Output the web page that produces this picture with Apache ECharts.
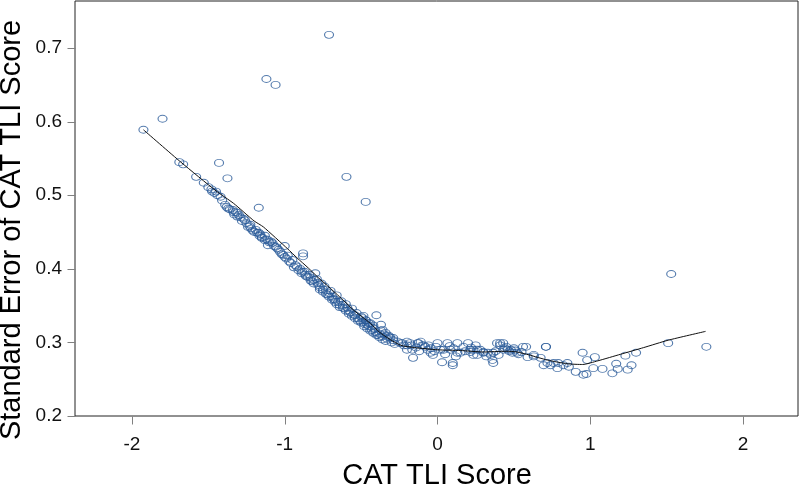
<!DOCTYPE html>
<html><head><meta charset="utf-8">
<script src="https://cdn.jsdelivr.net/npm/echarts@6/dist/echarts.min.js"></script>
<style>html,body{margin:0;padding:0;background:#fff}#c{width:800px;height:488px}</style>
</head><body><div id="c"></div>
<script>
const xTicks = [-2, -1, 0, 1, 2];
const yTicks = [0.2, 0.3, 0.4, 0.5, 0.6, 0.7];
const xTitle = 'CAT TLI Score';
const yTitle = 'Standard Error of CAT TLI Score';

const pointX = [
-0.71,-1.12,-1.06,-1.80,-1.925,-0.596,-0.47,-1.43,-1.375,-1.17,-1.69,-1.665,1.53,1.76,1.51,-1.00,-0.88,-0.88,-0.40,
-1.58,-1.53,-1.50,-1.475,-1.46,-1.44,-1.41,-1.34,-1.32,-1.30,-1.27,-1.25,-1.24,-1.18,-1.165,-1.15,-1.13,-1.11,
-1.335,-1.31,-1.29,-1.26,-1.225,-1.19,-1.17,-1.15,-1.11,-1.08,-1.05,-1.03,-1.00,-0.96,-0.94,-0.91,-0.885,-0.865,-0.83,-0.81,-0.80,-0.785,-0.77,-0.73,-0.71,-0.69,-0.67,-0.65,-0.62,-0.59,-0.57,-0.54,-0.52,-0.485,-0.46,-0.425,-0.405,-0.485,-0.39,
-0.98,-0.95,-0.93,-0.90,-0.87,-0.85,-0.84,-0.82,-0.79,-0.78,-0.76,-0.75,-0.74,-0.72,-0.70,-0.68,-0.66,-0.64,-0.63,-0.61,-0.60,-0.58,-0.56,-0.55,-0.53,-0.51,-0.50,-0.48,-0.47,-0.45,-0.44,-0.43,-0.42,-0.41,-0.38,-0.37,-0.36,-0.35,-0.33,-0.32,
-1.48,-1.45,-1.42,-1.38,-1.36,-1.28,-1.22,-1.20,-1.13,-1.09,-1.07,-1.04,-1.02,-0.99,-0.97,-0.92,
-0.49,-0.47,-0.45,-0.37,-0.36,-0.34,-0.32,-0.29,-0.26,-0.24,-0.22,-0.20,-0.18,-0.165,-0.16,-0.125,-0.10,-0.08,-0.045,-0.03,0.0,0.02,0.03,0.065,0.085,0.10,0.13,0.15,0.20,0.215,0.235,0.26,0.30,0.33,0.36,0.365,0.39,0.41,0.43,0.46,
-0.31,-0.29,-0.23,-0.20,-0.20,-0.13,-0.11,-0.09,-0.065,-0.045,-0.01,0.04,0.10,0.105,0.13,0.17,0.215,0.235,0.26,0.30,0.35,0.365,0.41,0.43,0.48,0.50,0.52,0.56,0.59,0.63,0.675,0.71,0.695,0.72,
0.45,0.58,0.63,0.71,0.74,0.76,0.785,0.79,0.825,0.85,0.86,0.905,0.95,0.955,0.975,0.98,1.02,1.03,1.08,1.145,1.17,1.18,1.23,1.245,1.27,1.30,
0.47,0.49,0.51,0.53,0.44,
-1.39,-1.37,-1.33,-1.31,-1.23,-1.21,-1.16,-1.12,-1.10,-1.06,-1.01,
-0.89,-0.86,-0.83,-0.81,-0.77,-0.75,-0.73,-0.71,-0.69,-0.67,-0.66,-0.64,-0.62,-0.60,-0.58,-0.56,-0.54,-0.52,-0.50,-0.48,-0.46,-0.44,-0.42,-0.40,-0.38,-0.36,-0.34,-0.30,-0.28,
-0.17,-0.14,-0.12,-0.06,-0.02,0.05,0.08,0.12,0.18,0.22,0.25,0.28,0.32,0.38,0.40,0.55
];
const pointY = [
0.718,0.658,0.650,0.604,0.589,0.525,0.491,0.544,0.523,0.483,0.545,0.542,0.393,0.294,0.299,0.431,0.421,0.417,0.337,
0.525,0.517,0.511,0.505,0.503,0.500,0.493,0.480,0.477,0.473,0.468,0.462,0.457,0.449,0.445,0.442,0.439,0.432,
0.477,0.476,0.470,0.466,0.460,0.453,0.449,0.443,0.439,0.435,0.428,0.423,0.416,0.408,0.402,0.398,0.396,0.392,0.388,0.385,0.394,0.381,0.375,0.371,0.367,0.362,0.358,0.355,0.351,0.347,0.341,0.337,0.333,0.328,0.324,0.320,0.314,0.336,0.310,
0.418,0.412,0.405,0.400,0.396,0.389,0.392,0.383,0.386,0.378,0.380,0.372,0.376,0.365,0.370,0.359,0.364,0.351,0.356,0.346,0.352,0.343,0.346,0.338,0.340,0.330,0.335,0.325,0.330,0.322,0.326,0.317,0.323,0.318,0.312,0.316,0.308,0.311,0.305,0.309,
0.508,0.505,0.498,0.484,0.481,0.465,0.455,0.450,0.445,0.437,0.431,0.426,0.420,0.414,0.410,0.403,
0.333,0.330,0.326,0.324,0.317,0.313,0.307,0.306,0.301,0.299,0.296,0.301,0.299,0.290,0.279,0.299,0.296,0.294,0.292,0.283,0.299,0.290,0.273,0.299,0.290,0.272,0.299,0.286,0.299,0.290,0.283,0.290,0.287,0.286,0.276,0.286,0.299,0.296,0.299,0.290,
0.307,0.303,0.299,0.296,0.290,0.299,0.301,0.296,0.290,0.286,0.294,0.290,0.269,0.292,0.286,0.294,0.287,0.290,0.283,0.286,0.283,0.272,0.299,0.290,0.290,0.292,0.286,0.294,0.280,0.283,0.279,0.294,0.269,0.272,
0.294,0.294,0.281,0.294,0.269,0.272,0.265,0.272,0.269,0.272,0.267,0.260,0.286,0.256,0.257,0.276,0.265,0.280,0.264,0.258,0.271,0.264,0.282,0.263,0.269,0.286,
0.288,0.286,0.289,0.284,0.292,
0.487,0.482,0.474,0.471,0.458,0.452,0.447,0.440,0.436,0.430,0.419,
0.394,0.390,0.384,0.380,0.372,0.369,0.366,0.362,0.358,0.355,0.352,0.348,0.347,0.343,0.339,0.336,0.333,0.329,0.327,0.322,0.319,0.316,0.313,0.310,0.307,0.304,0.302,0.300,0.298,
0.296,0.293,0.288,0.296,0.288,0.284,0.295,0.281,0.288,0.293,0.296,0.290,0.281,0.288,0.283,0.287
];
const fitX = [-1.925,-1.68,-1.45,-1.335,-1.20,-1.14,-0.98,-0.92,-0.845,-0.78,-0.72,-0.62,-0.55,-0.44,-0.38,-0.31,-0.24,-0.15,0.0,0.15,0.30,0.45,0.52,0.60,0.72,0.85,0.95,1.05,1.20,1.35,1.51,1.755];
const fitY = [0.589,0.545,0.506,0.489,0.465,0.457,0.427,0.415,0.401,0.388,0.377,0.358,0.344,0.326,0.314,0.304,0.296,0.293,0.290,0.289,0.287,0.288,0.287,0.283,0.276,0.271,0.270,0.275,0.284,0.293,0.303,0.315];

const X_MIN = -2.373, X_MAX = 2.36, Y_MIN = 0.2, Y_MAX = 0.764;
const pts = pointX.map((x, i) => [x, pointY[i]]);
const fit = fitX.map((x, i) => [x, fitY[i]]);

const FONT = '"Liberation Sans", Arial, sans-serif';
const TICK_LEN = 8;
function tickRenderer(dir) {
  return function (params, api) {
    const p = api.coord([api.value(0), api.value(1)]);
    const x = Math.round(p[0]) + 0.5, y = Math.round(p[1]) + 0.5;
    const shape = dir === 'x' ? {x1: x, y1: y, x2: x, y2: y + TICK_LEN} : {x1: x, y1: y, x2: x - TICK_LEN, y2: y};
    return {type: 'line', shape: shape, style: {stroke: '#808080', lineWidth: 1}};
  };
}

const chart = echarts.init(document.getElementById('c'), null, {renderer: 'canvas'});
chart.setOption({
  animation: false,
  backgroundColor: '#fff',
  grid: {left: 75, right: 2, top: 1, bottom: 72, show: true, borderColor: '#222', borderWidth: 1, backgroundColor: 'transparent'},
  xAxis: {
    type: 'value', min: X_MIN, max: X_MAX,
    splitLine: {show: false},
    axisLine: {show: false, onZero: false},
    axisTick: {show: false},
    axisLabel: {customValues: xTicks, margin: 19, fontSize: 19, fontFamily: FONT, color: '#111', formatter: v => String(v)}
  },
  yAxis: {
    type: 'value', min: Y_MIN, max: Y_MAX,
    splitLine: {show: false},
    axisLine: {show: false, onZero: false},
    axisTick: {show: false},
    axisLabel: {customValues: yTicks, margin: 13, fontSize: 19, fontFamily: FONT, color: '#111', formatter: v => v.toFixed(1)}
  },
  graphic: [
    {type: 'text', x: 437, y: 476, style: {text: xTitle, font: '29px ' + FONT, fill: '#000', align: 'center', verticalAlign: 'middle', textAlign: 'center', textVerticalAlign: 'middle'}},
    {type: 'text', x: 12, y: 230, rotation: Math.PI / 2, style: {text: yTitle, font: '29px ' + FONT, fill: '#000', align: 'center', verticalAlign: 'middle', textAlign: 'center', textVerticalAlign: 'middle'}}
  ],
  series: [
    {type: 'custom', silent: true, clip: false, data: xTicks.map(v => [v, Y_MIN]), renderItem: tickRenderer('x')},
    {type: 'custom', silent: true, clip: false, data: yTicks.map(v => [X_MIN, v]), renderItem: tickRenderer('y')},
    {type: 'scatter', data: pts, symbol: 'circle', symbolSize: [9, 7],
     itemStyle: {color: 'rgba(0,0,0,0)', borderColor: '#295a98', borderWidth: 1}, emphasis: {disabled: true}},
    {type: 'line', data: fit, showSymbol: false, symbol: 'none', smooth: 0.2,
     lineStyle: {color: '#111', width: 1}, z: 3}
  ]
});
</script>
</body></html>
